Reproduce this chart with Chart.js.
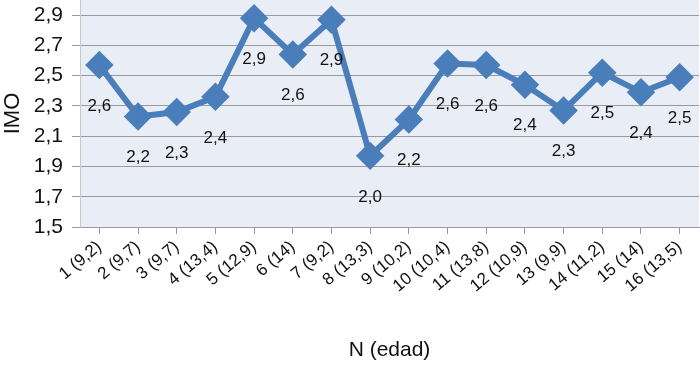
<!DOCTYPE html>
<html>
<head>
<meta charset="utf-8">
<script src="https://cdn.jsdelivr.net/npm/chart.js@4"></script>
<style>
html,body{margin:0;padding:0;background:#fff;}
#wrap{width:700px;height:365px;}
</style>
</head>
<body>
<div id="wrap"><canvas id="c" width="700" height="365"></canvas></div>
<script>
const categories = ["1 (9,2)","2 (9,7)","3 (9,7)","4 (13,4)","5 (12,9)","6 (14)","7 (9,2)","8 (13,3)","9 (10,2)","10 (10,4)","11 (13,8)","12 (10,9)","13 (9,9)","14 (11,2)","15 (14)","16 (13,5)"];
const imoValues = [2.57, 2.23, 2.26, 2.36, 2.88, 2.64, 2.87, 1.97, 2.21, 2.58, 2.57, 2.44, 2.27, 2.52, 2.39, 2.49];
const yTicks = [1.5, 1.7, 1.9, 2.1, 2.3, 2.5, 2.7, 2.9];
const yTitle = "IMO";
const xTitle = "N (edad)";

const fmt = v => v.toFixed(1).replace('.', ',');
const FONT = "'Liberation Sans', Arial, sans-serif";
const zeroPad = () => ({left: 0, top: 0, right: 0, bottom: 0});

const bgPlugin = {
  id: 'plotBg',
  beforeDraw(chart) {
    const {ctx, chartArea: a} = chart;
    ctx.save();
    ctx.fillStyle = '#e9edf5';
    ctx.fillRect(a.left, a.top, a.right - a.left, a.bottom - a.top);
    ctx.restore();
  }
};
const labelPlugin = {
  id: 'valLabels',
  afterDatasetsDraw(chart) {
    const ctx = chart.ctx;
    const meta = chart.getDatasetMeta(0);
    ctx.save();
    ctx.font = "17px " + FONT;
    ctx.fillStyle = '#111';
    ctx.textAlign = 'center';
    ctx.textBaseline = 'middle';
    meta.data.forEach((pt, i) => {
      ctx.fillText(fmt(imoValues[i]), pt.x, pt.y + 41);
    });
    ctx.restore();
  }
};

new Chart(document.getElementById('c'), {
  type: 'line',
  data: {
    labels: categories,
    datasets: [{
      data: imoValues,
      borderColor: '#4a7ebb',
      backgroundColor: '#4a7ebb',
      borderWidth: 6,
      pointStyle: 'rectRot',
      pointRadius: 10,
      pointHoverRadius: 10,
      tension: 0,
      fill: false,
      clip: false
    }]
  },
  options: {
    responsive: false,
    animation: false,
    events: [],
    layout: {autoPadding: false, padding: {top: 0, right: 1, left: 0, bottom: 0}},
    plugins: {legend: {display: false}, tooltip: {enabled: false}},
    scales: {
      x: {
        offset: true,
        grid: {display: true, drawOnChartArea: false, drawTicks: true, tickLength: 7, color: '#999', offset: false},
        border: {color: '#999', width: 1},
        ticks: {minRotation: 40, maxRotation: 40, autoSkip: false, color: '#111', font: {family: FONT, size: 17}, padding: 3},
        title: {display: true, text: xTitle, color: '#111', font: {family: FONT, size: 21}, padding: {top: 0, bottom: 2}},
        afterFit(s) { s.height = 138; s.paddingLeft = 0; s.paddingRight = 0; s.getPadding = zeroPad; }
      },
      y: {
        min: 1.5, max: 3.0,
        afterBuildTicks(s) { s.ticks = yTicks.map(v => ({value: v})); },
        grid: {color: '#9a9a9a', lineWidth: 1, tickLength: 8},
        border: {color: '#c8c8c8', width: 1},
        ticks: {color: '#111', font: {family: FONT, size: 21}, padding: 9, callback: v => fmt(v)},
        title: {display: true, text: yTitle, color: '#111', font: {family: FONT, size: 22}, padding: {top: 0, bottom: 0}},
        afterFit(s) { s.width = 80; s.paddingTop = 0; s.paddingBottom = 0; s.getPadding = zeroPad; }
      }
    }
  },
  plugins: [bgPlugin, labelPlugin]
});
</script>
</body>
</html>
